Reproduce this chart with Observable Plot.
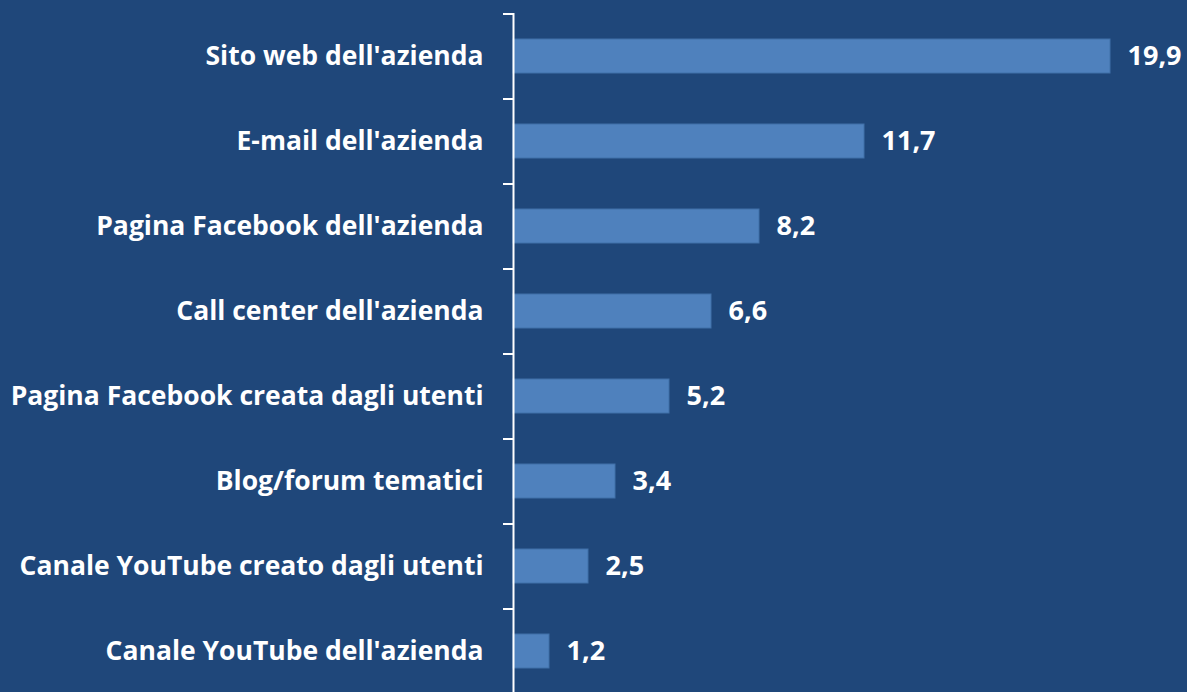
<!DOCTYPE html>
<html><head><meta charset="utf-8">
<script src="https://cdn.jsdelivr.net/npm/d3@7"></script>
<script src="https://cdn.jsdelivr.net/npm/@observablehq/plot@0.6"></script>
<style>
html,body{margin:0;padding:0;background:#1F477A;}
</style></head>
<body><div id="chart"></div>
<script>
const categories = ["Sito web dell'azienda","E-mail dell'azienda","Pagina Facebook dell'azienda","Call center dell'azienda","Pagina Facebook creata dagli utenti","Blog/forum tematici","Canale YouTube creato dagli utenti","Canale YouTube dell'azienda"];
const values = [19.9,11.7,8.2,6.6,5.2,3.4,2.5,1.2];
const data = categories.map((c,i)=>({cat:c, v:values[i]}));
const W=1187, H=692, ML=513, MT=13;
const step = (H+1-MT)/categories.length;
const font = "'Open Sans', sans-serif";
const fmt = v => v.toFixed(1).replace(".", ",");
const chart = Plot.plot({
  width: W, height: H,
  marginLeft: ML, marginRight: 0, marginTop: MT, marginBottom: -1,
  style: {background: "#1F477A", color: "white", fontFamily: font},
  x: {domain: [0, (W-ML)/30], axis: null},
  y: {domain: categories, paddingInner: 0.6, paddingOuter: 0.3, align: 0.5, axis: null, label: null},
  marks: [
    Plot.barX(data, {y: "cat", x: "v", fill: "#4F81BD", stroke: "#4170A8", strokeWidth: 1}),
    Plot.text(data, {y: "cat", x: "v", text: d => fmt(d.v), textAnchor: "start", dx: 17, fill: "white", fontSize: 27, fontWeight: "bold"}),
    Plot.axisY({tickSize: 0, tickPadding: 30, fontSize: 26.5, fontWeight: "bold", fill: "white", textAnchor: "end", label: null}),
    Plot.ruleX([0], {stroke: "white", strokeWidth: 2}),
    Plot.ruleY(categories, {y: d => d, x1: -10/30, x2: 0, dy: -step/2, stroke: "white", strokeWidth: 2}),
    Plot.ruleY([categories[categories.length-1]], {y: d => d, x1: -10/30, x2: 0, dy: step/2, stroke: "white", strokeWidth: 2})
  ]
});
document.getElementById("chart").append(chart);
</script></body></html>
